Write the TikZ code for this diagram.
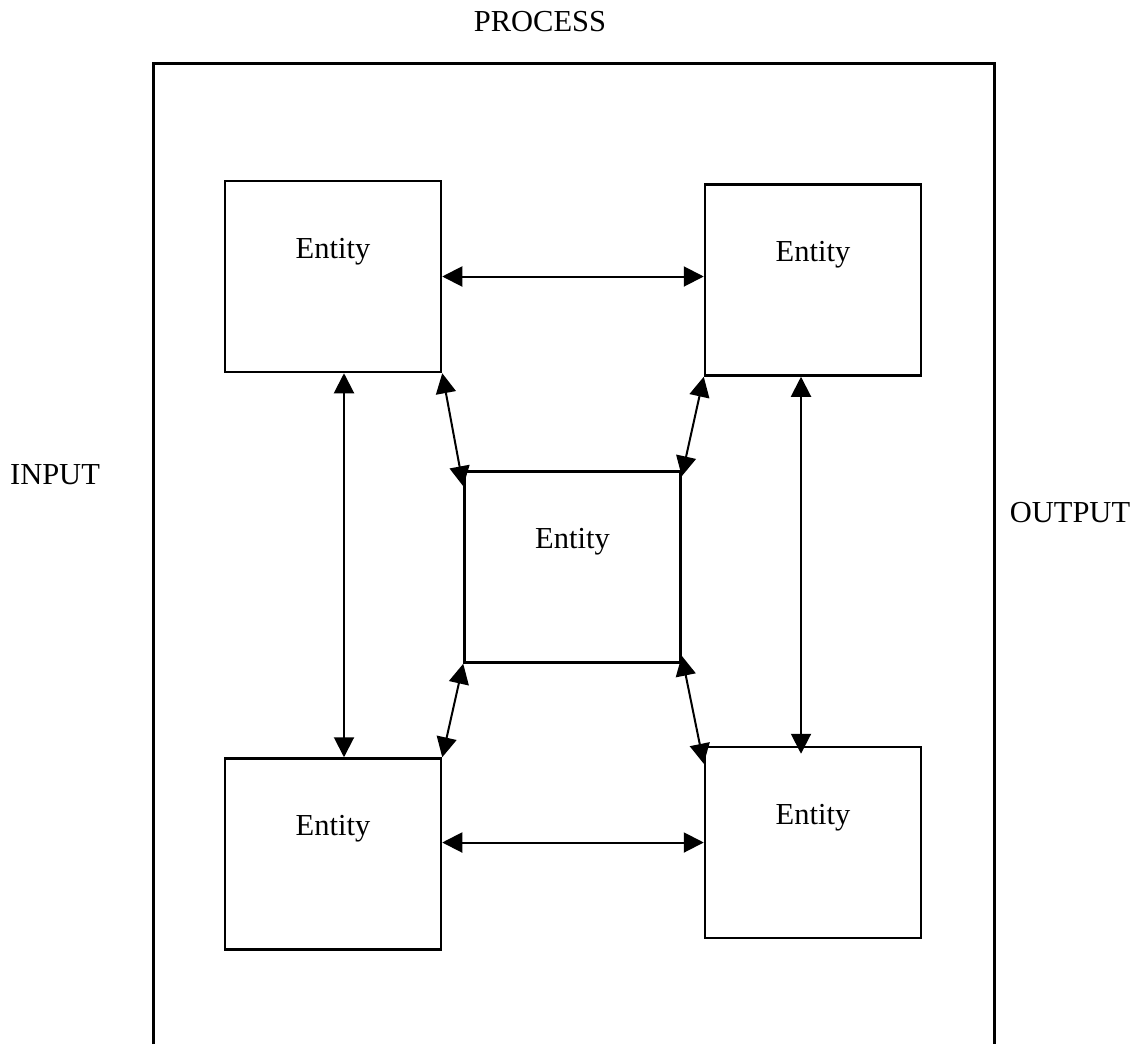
\documentclass[tikz,border=0pt]{standalone}
\usepackage{fontspec}
\setmainfont{Liberation Serif}
\usetikzlibrary{arrows.meta}

\begin{document}
\begin{tikzpicture}[
            x=1pt, y=-1pt,
            every node/.style={font=\fontsize{30.5}{36}\selectfont},
            entity/.style={draw, line width=2.5pt, inner sep=0pt, minimum width=216pt,
                text height=77pt, text depth=114pt},
            ]
            \useasboundingbox (0,0) rectangle (1140,1044);
            % labels
            \node (process) at (540, 22) {PROCESS};
            \node (input) at (55, 475) {INPUT};
            \node (output) at (1070, 513) {OUTPUT};
            % outer frame, open at the bottom
            \draw[line width=3pt] (153,1044) -- (153,63) -- (994,63) -- (994,1044);
            % entities
            \node[entity] (tl) at (333, 276.5) {Entity};
            \node[entity] (tr) at (813, 280) {Entity};
            \node[entity] (c) at (572.5, 567) {Entity};
            \node[entity] (bl) at (333, 854) {Entity};
            \node[entity] (br) at (813, 842.5) {Entity};

            \begin{scope}[{Triangle[length=20pt,width=20pt]}-{Triangle[length=20pt,width=20pt]}, line width=2pt]
                \draw (tl.east) -- (tl.east -| tr.west);
                \draw (bl.east |- br.west) -- (br.west);
                \draw ([xshift=11pt]tl.south) -- ([xshift=11pt]bl.north);
                \draw ([xshift=-12pt]tr.south) -- ([xshift=-12pt,yshift=-8pt]br.north);
                \draw (tl.south east) -- ([yshift=-16pt]c.north west);
                \draw (tr.south west) -- ([yshift=-6pt]c.north east);
                \draw (c.south west) -- (bl.north east);
                \draw ([yshift=8pt]c.south east) -- ([yshift=-18pt]br.north west);
            \end{scope}
        \end{tikzpicture}
\end{document}
